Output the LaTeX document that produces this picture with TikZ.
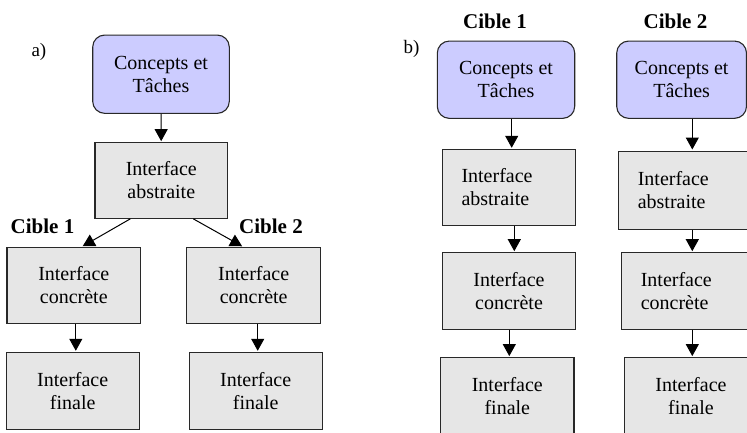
\documentclass[tikz,border=0pt]{standalone}
\usepackage{fontspec}
\setmainfont{Liberation Serif}
\usetikzlibrary{arrows.meta,calc}
\definecolor{lav}{RGB}{204,204,255}
\definecolor{gbox}{RGB}{230,230,230}
\definecolor{edge}{RGB}{40,40,40}
\tikzset{
  base/.style={draw=edge, line width=1.1pt, align=center, inner sep=0pt,
    font=\fontsize{20}{23}\selectfont},
  task/.style={base, fill=lav, rounded corners=12pt},
  gbox/.style={base, fill=gbox},
  leftbox/.style={base, fill=gbox, align=left, text width=95pt, inner xsep=19pt},
  arr/.style={-{Triangle[width=13pt,length=12pt]}, line width=1pt, black, shorten >=1pt},
  cible/.style={anchor=base, font=\fontsize{21}{24}\selectfont\bfseries},
  tag/.style={anchor=base west, font=\fontsize{19}{22}\selectfont}
}
\begin{document}
\begin{tikzpicture}[x=1pt,y=-1pt]
\clip (0,0) rectangle (747,432);
\fill[white] (0,0) rectangle (747,432);
% ---- a)
\node[tag] (ta) at (28,56.7) {a)};
\node[task, minimum width=136.6pt, minimum height=78.3pt] (ca) at (161,74.2) {Concepts et\\Tâches};
\node[gbox, minimum width=132.7pt, minimum height=75.6pt] (aa) at (161.3,180.5) {Interface\\abstraite};
\node[gbox, minimum width=133.7pt, minimum height=76pt] (c1) at (73.8,285.3) {Interface\\concrète};
\node[gbox, minimum width=134pt, minimum height=76pt] (c2) at (253.7,285.3) {Interface\\concrète};
\node[gbox, minimum width=133.3pt, minimum height=76.7pt] (f1) at (72.7,390.7) {Interface\\finale};
\node[gbox, minimum width=133.3pt, minimum height=76.7pt] (f2) at (255.7,390.7) {Interface\\finale};
\node[cible] (la1) at (42.5,233) {Cible 1};
\node[cible] (la2) at (271,233) {Cible 2};
\draw[arr] (ca) -- (aa);
\coordinate (aaL) at ($(aa.south)+(-31,0)$);
\coordinate (aaR) at ($(aa.south)+(32,0)$);
\coordinate (c1T) at ($(c1.north)+(8,0)$);
\coordinate (c2T) at ($(c2.north)+(-10.7,0)$);
\draw[arr] (aaL) -- (c1T);
\draw[arr] (aaR) -- (c2T);
\coordinate (c1B) at ($(c1.south)+(2,0)$);
\coordinate (c2B) at ($(c2.south)+(4,0)$);
\draw[arr] (c1B) -- (c1B |- f1.north);
\draw[arr] (c2B) -- (c2B |- f2.north);
% ---- b)
\node[tag] (tb) at (400,53.3) {b)};
\node[cible] (lb1) at (495,28.3) {Cible 1};
\node[cible] (lb2) at (675.5,28.3) {Cible 2};
\node[task, minimum width=137.4pt, minimum height=77.3pt] (cb1) at (506,79.7) {Concepts et\\Tâches};
\node[task, minimum width=129.8pt, minimum height=77.3pt] (cb2) at (681.6,79.7) {Concepts et\\Tâches};
\node[leftbox, minimum height=75.7pt] (ab1) at (509,187.2) {Interface\\abstraite};
\node[leftbox, minimum height=78.3pt] (ab2) at (685.3,190.2) {Interface\\abstraite};
\node[gbox, minimum width=133.4pt, minimum height=76.3pt] (kb1) at (509,290.9) {Interface\\concrète};
\node[leftbox, minimum height=76.3pt] (kb2) at (688.3,290.9) {Interface\\concrète};
\node[gbox, minimum width=133.3pt, minimum height=77.3pt] (fb1) at (507.3,396.3) {Interface\\finale};
\node[gbox, minimum width=133.3pt, minimum height=77.3pt] (fb2) at (691,396.3) {Interface\\finale};
\coordinate (cb1B) at ($(cb1.south)+(5.7,0)$);
\coordinate (ab1B) at ($(ab1.south)+(5.3,0)$);
\coordinate (kb1B) at ($(kb1.south)+(0.3,0)$);
\coordinate (cb2B) at ($(cb2.south)+(10.7,0)$);
\coordinate (ab2B) at ($(ab2.south)+(7,0)$);
\coordinate (kb2B) at ($(kb2.south)+(4,0)$);
\draw[arr] (cb1B) -- (cb1B |- ab1.north);
\draw[arr] (ab1B) -- (ab1B |- kb1.north);
\draw[arr] (kb1B) -- (kb1B |- fb1.north);
\draw[arr] (cb2B) -- (cb2B |- ab2.north);
\draw[arr] (ab2B) -- (ab2B |- kb2.north);
\draw[arr] (kb2B) -- (kb2B |- fb2.north);
\end{tikzpicture}
\end{document}
